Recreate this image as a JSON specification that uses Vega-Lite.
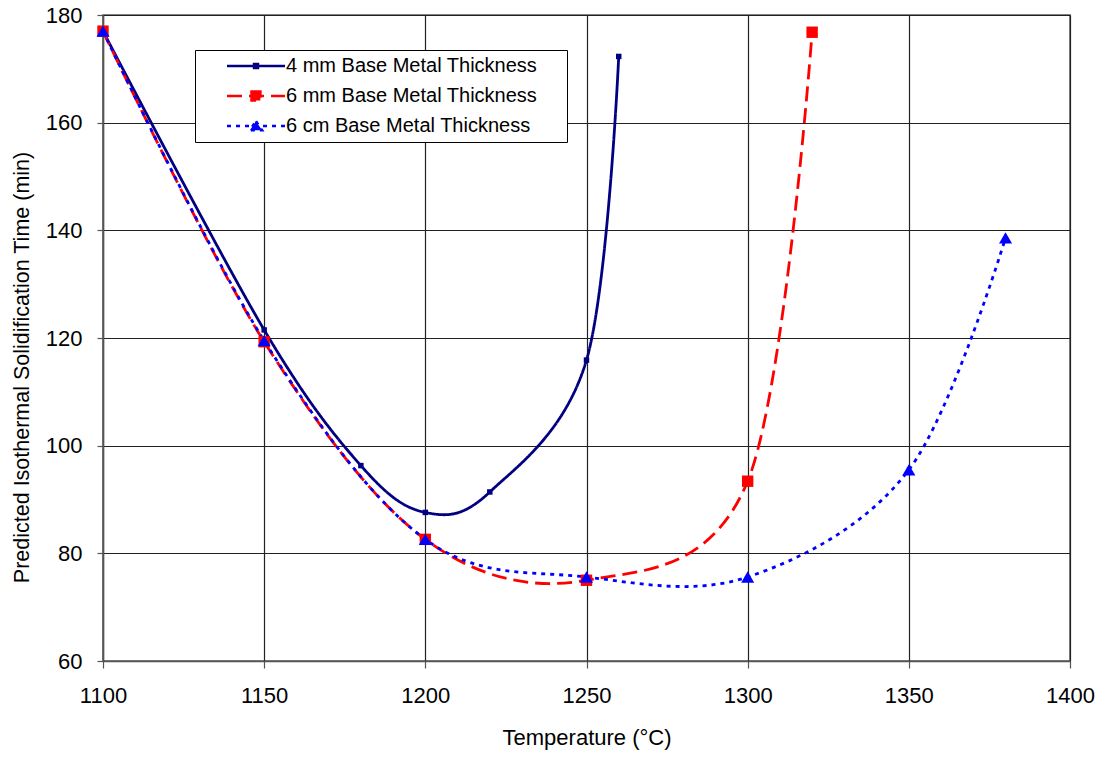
{
  "$schema": "https://vega.github.io/schema/vega-lite/v6.json",
  "width": 967,
  "height": 646,
  "autosize": {"type": "none"},
  "padding": {"left": 103, "top": 15, "right": 33, "bottom": 96},
  "background": "white",
  "config": {
    "font": "Liberation Sans",
    "view": {"stroke": "#555555", "strokeWidth": 1.5}
  },
  "data": {"values": [
    {"series": "4 mm Base Metal Thickness", "temp": 1100, "time": 177},
    {"series": "4 mm Base Metal Thickness", "temp": 1150, "time": 121.5},
    {"series": "4 mm Base Metal Thickness", "temp": 1180, "time": 96.3},
    {"series": "4 mm Base Metal Thickness", "temp": 1200, "time": 87.6},
    {"series": "4 mm Base Metal Thickness", "temp": 1220, "time": 91.4},
    {"series": "4 mm Base Metal Thickness", "temp": 1250, "time": 115.9},
    {"series": "4 mm Base Metal Thickness", "temp": 1260, "time": 172.3},
    {"series": "6 mm Base Metal Thickness", "temp": 1100, "time": 177},
    {"series": "6 mm Base Metal Thickness", "temp": 1150, "time": 119.3},
    {"series": "6 mm Base Metal Thickness", "temp": 1200, "time": 82.6},
    {"series": "6 mm Base Metal Thickness", "temp": 1250, "time": 75},
    {"series": "6 mm Base Metal Thickness", "temp": 1300, "time": 93.4},
    {"series": "6 mm Base Metal Thickness", "temp": 1320, "time": 176.8},
    {"series": "6 cm Base Metal Thickness", "temp": 1100, "time": 177},
    {"series": "6 cm Base Metal Thickness", "temp": 1150, "time": 119.5},
    {"series": "6 cm Base Metal Thickness", "temp": 1200, "time": 82.6},
    {"series": "6 cm Base Metal Thickness", "temp": 1250, "time": 75.6},
    {"series": "6 cm Base Metal Thickness", "temp": 1300, "time": 75.6},
    {"series": "6 cm Base Metal Thickness", "temp": 1350, "time": 95.5},
    {"series": "6 cm Base Metal Thickness", "temp": 1380, "time": 138.6}
  ]},
  "encoding": {
    "x": {"field": "temp", "type": "quantitative",
      "scale": {"domain": [1100, 1400], "nice": false, "zero": false},
      "axis": {"values": [1100, 1150, 1200, 1250, 1300, 1350, 1400], "format": "d", "title": "Temperature (°C)",
        "labelFlush": false,
        "gridColor": "#222222", "gridOpacity": 1, "gridWidth": 1.2,
        "domainColor": "#555555", "domainWidth": 1.5,
        "tickColor": "#555555", "tickSize": 7, "tickWidth": 1.2,
        "labelFont": "Liberation Sans", "labelFontSize": 22, "labelColor": "black", "labelPadding": 17,
        "titleFont": "Liberation Sans", "titleFontSize": 22, "titleFontWeight": "normal", "titleColor": "black", "titlePadding": 21}},
    "y": {"field": "time", "type": "quantitative",
      "scale": {"domain": [60, 180], "nice": false, "zero": false},
      "axis": {"values": [60, 80, 100, 120, 140, 160, 180], "title": "Predicted Isothermal Solidification Time (min)",
        "labelFlush": false,
        "gridColor": "#222222", "gridOpacity": 1, "gridWidth": 1.2,
        "domainColor": "#555555", "domainWidth": 1.5,
        "tickColor": "#555555", "tickSize": 6, "tickWidth": 1.2,
        "labelFont": "Liberation Sans", "labelFontSize": 22, "labelColor": "black", "labelPadding": 15,
        "titleFont": "Liberation Sans", "titleFontSize": 21.5, "titleFontWeight": "normal", "titleColor": "black", "titlePadding": 12,
        "titleY": 352}}
  },
  "layer": [
    {
      "mark": {"type": "line", "interpolate": "cardinal", "tension": 0, "strokeWidth": 2.8},
      "encoding": {
        "color": {"field": "series", "type": "nominal",
          "sort": ["4 mm Base Metal Thickness", "6 mm Base Metal Thickness", "6 cm Base Metal Thickness"],
          "scale": {"domain": ["4 mm Base Metal Thickness", "6 mm Base Metal Thickness", "6 cm Base Metal Thickness"], "range": ["#000080", "#FF0000", "#0000FF"]},
          "legend": {
            "title": null, "orient": "none", "legendX": 92, "legendY": 35,
            "symbolType": "stroke", "symbolSize": 256, "symbolStrokeWidth": 2.6,
            "labelFontSize": 20, "labelFont": "Liberation Sans", "labelColor": "black", "labelOffset": 65,
            "labelLimit": 0,
            "rowPadding": 10, "padding": 6,
            "strokeColor": "black", "fillColor": "white",
            "encode": {"symbols": {"update": {
              "shape": {"signal": "datum.value == '4 mm Base Metal Thickness' ? 'M2,0H9.25M5.38,-0.25H5.87V0.25H5.38ZM43,0' : datum.value == '6 mm Base Metal Thickness' ? 'M2,0H9.25M5.07,-0.55H6.17V0.55H5.07ZM43,0' : 'M2,0H9.25M5.62,-0.6L6.38,0.52H4.86ZM43,0'"},
              "fill": {"scale": "color", "field": "value"},
              "stroke": {"scale": "color", "field": "value"},
              "strokeDash": {"scale": "strokeDash", "field": "value"},
              "strokeWidth": {"value": 2.6},
              "opacity": {"value": 1}
            }}}
          }},
        "strokeDash": {"field": "series", "type": "nominal",
          "scale": {"domain": ["4 mm Base Metal Thickness", "6 mm Base Metal Thickness", "6 cm Base Metal Thickness"], "range": [[1, 0], [15, 7], [4, 5]]},
          "legend": null}
      }
    },
    {
      "transform": [{"filter": "datum.series == '4 mm Base Metal Thickness'"}],
      "mark": {"type": "point", "filled": true, "opacity": 1, "shape": "square", "size": 30, "color": "#000080"}
    },
    {
      "transform": [{"filter": "datum.series == '6 mm Base Metal Thickness'"}],
      "mark": {"type": "point", "filled": true, "opacity": 1, "shape": "square", "size": 130, "color": "#FF0000"}
    },
    {
      "transform": [{"filter": "datum.series == '6 cm Base Metal Thickness'"}],
      "mark": {"type": "point", "filled": true, "opacity": 1, "shape": "triangle-up", "size": 170, "color": "#0000FF"}
    }
  ]
}
